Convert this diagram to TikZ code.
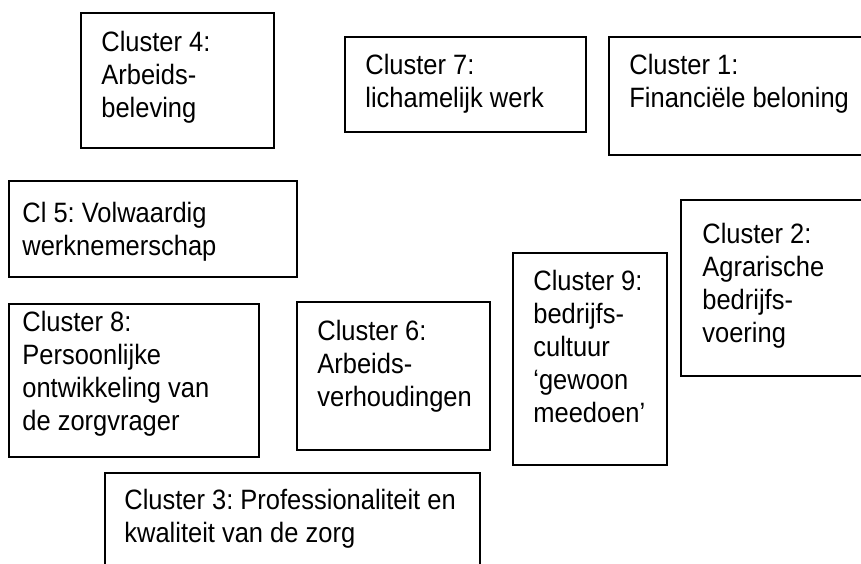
\documentclass[tikz,border=0pt]{standalone}
\usepackage{fontspec}
\setmainfont[FakeStretch=0.91]{Liberation Sans}
\frenchspacing
\tikzstyle{box}=[draw=black,line width=1pt,inner sep=0pt,anchor=north west]
\tikzstyle{txt}=[align=left,inner sep=0pt,anchor=north west,
  font=\fontsize{14}{16.5}\selectfont]

\begin{document}
\begin{tikzpicture}[x=0.5pt,y=-0.5pt]
    \useasboundingbox (0,0) rectangle (861,563);
    \clip (0,0) rectangle (861,563);
    % boxes
    \node [box,minimum width=96.5pt,minimum height=67.5pt] (c4) at (80,12) {};
    \node [box,minimum width=120.5pt,minimum height=47.5pt] (c7) at (344,36) {};
    \node [box,minimum width=146pt,minimum height=59pt] (c1) at (608,36) {};
    \node [box,minimum width=144pt,minimum height=48pt] (c5) at (8,180) {};
    \node [box,minimum width=110pt,minimum height=88pt] (c2) at (680,199) {};
    \node [box,minimum width=125pt,minimum height=76.5pt] (c8) at (8,303) {};
    \node [box,minimum width=96.5pt,minimum height=74pt] (c6) at (296,301) {};
    \node [box,minimum width=77pt,minimum height=106pt] (c9) at (512,252) {};
    \node [box,minimum width=187.5pt,minimum height=65pt] (c3) at (104,472) {};
    % labels
    \node [txt] (t4) at (101,31) {Cluster 4:\\Arbeids-\\beleving};
    \node [txt] (t7) at (365,54) {Cluster 7:\\lichamelijk werk};
    \node [txt] (t1) at (629,54) {Cluster 1:\\Financiële beloning};
    \node [txt] (t5) at (22,202) {Cl 5: Volwaardig\\werknemerschap};
    \node [txt] (t2) at (702,223) {Cluster 2:\\Agrarische\\bedrijfs-\\voering};
    \node [txt] (t8) at (22,311) {Cluster 8:\\Persoonlijke\\ontwikkeling van\\de zorgvrager};
    \node [txt] (t6) at (317,320) {Cluster 6:\\Arbeids-\\verhoudingen};
    \node [txt] (t9) at (533,270) {Cluster 9:\\bedrijfs-\\cultuur\\‘gewoon\\meedoen’};
    \node [txt] (t3) at (124,489) {Cluster 3: Professionaliteit en\\kwaliteit van de zorg};
\end{tikzpicture}
\end{document}
